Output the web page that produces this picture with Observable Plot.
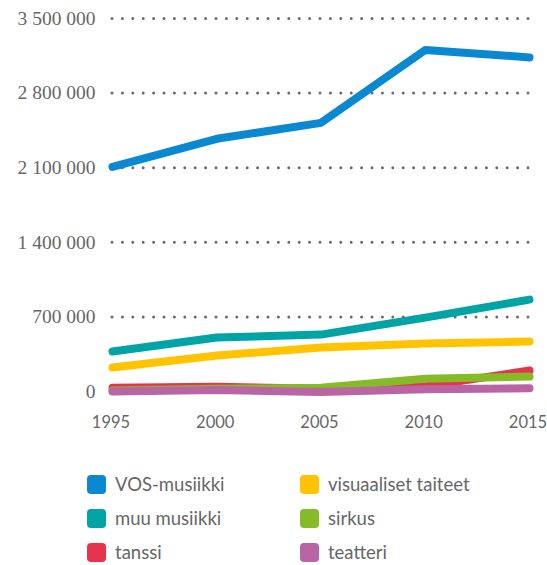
<!DOCTYPE html>
<html><head><meta charset="utf-8">
<script src="https://cdn.jsdelivr.net/npm/d3@7"></script>
<script src="https://cdn.jsdelivr.net/npm/@observablehq/plot@0.6"></script>
<style>
body{margin:0;background:#fff;}
#chart svg{overflow:visible;}
#legend{position:relative;height:125px;font-family:Lato,"Open Sans",sans-serif;font-size:18.5px;color:#666;}
.item{position:absolute;display:flex;align-items:center;}
.sw{width:19px;height:19px;border-radius:4px;margin-right:9px;}
</style></head>
<body>
<div id="chart"></div>
<div id="legend"></div>
<script>
const years = [1995, 2000, 2005, 2010, 2015];
const series = ["VOS-musiikki", "muu musiikki", "visuaaliset taiteet", "tanssi", "sirkus", "teatteri"];
const colors = ["#0a88d2", "#00a4a5", "#ffc300", "#e8334c", "#84bb26", "#b964a5"];
const vosMusiikki = [2108000, 2371000, 2521000, 3205000, 3135000];
const muuMusiikki = [375000, 506000, 534000, 693000, 862000];
const visuaalisetTaiteet = [225000, 337000, 412000, 450000, 469000];
const tanssi = [35000, 45000, 25000, 50000, 197000];
const sirkus = [10000, 25000, 35000, 120000, 140000];
const teatteri = [0, 15000, -5000, 20000, 30000];
const yTicks = [0, 700000, 1400000, 2100000, 2800000, 3500000];
const legendOrder = ["VOS-musiikki", "visuaaliset taiteet", "muu musiikki", "sirkus", "tanssi", "teatteri"];

const valuesBySeries = [vosMusiikki, muuMusiikki, visuaalisetTaiteet, tanssi, sirkus, teatteri];
const data = [];
series.forEach((s, i) => years.forEach((y, j) => data.push({series: s, year: y, value: valuesBySeries[i][j]})));

const fmt = d => d3.format(",")(d).replace(/,/g, " ");

const chart = Plot.plot({
  width: 547,
  height: 440,
  marginTop: 18,
  marginLeft: 112,
  marginRight: 18,
  marginBottom: 49,
  style: {background: "#fff", overflow: "visible"},
  x: {domain: [1995, 2015], ticks: years, tickFormat: d => String(d), label: null},
  y: {domain: [0, 3500000], label: null},
  color: {domain: series, range: colors},
  marks: [
    Plot.ruleY(yTicks.filter(d => d > 0), {stroke: "#6b6b6b", strokeWidth: 3, strokeDasharray: "0,10.4", strokeLinecap: "round", strokeOpacity: 1}),
    Plot.axisY({ticks: yTicks, tickSize: 0, tickPadding: 17, tickFormat: fmt, fontSize: 19.5, fontFamily: "Liberation Serif, DejaVu Serif, serif", fill: "#666", label: null}),
    Plot.axisX({ticks: years, tickSize: 0, tickPadding: 25, dx: -1.5, tickFormat: d => String(d), fontSize: 16.5, fontFamily: "Lato, Open Sans, sans-serif", fill: "#666", label: null}),
    Plot.line(data, {x: "year", y: "value", z: "series", stroke: "series", strokeWidth: 8, strokeLinecap: "round", strokeLinejoin: "round", curve: "linear"})
  ]
});
document.getElementById("chart").appendChild(chart);

const legend = document.getElementById("legend");
legendOrder.forEach((s, i) => {
  const col = i % 2, row = Math.floor(i / 2);
  const d = document.createElement("div");
  d.className = "item";
  d.style.left = (col === 0 ? 87 : 300) + "px";
  d.style.top = (33 + row * 34) + "px";
  d.innerHTML = `<span class="sw" style="background:${colors[series.indexOf(s)]}"></span><span>${s}</span>`;
  legend.appendChild(d);
});
</script>
</body></html>
